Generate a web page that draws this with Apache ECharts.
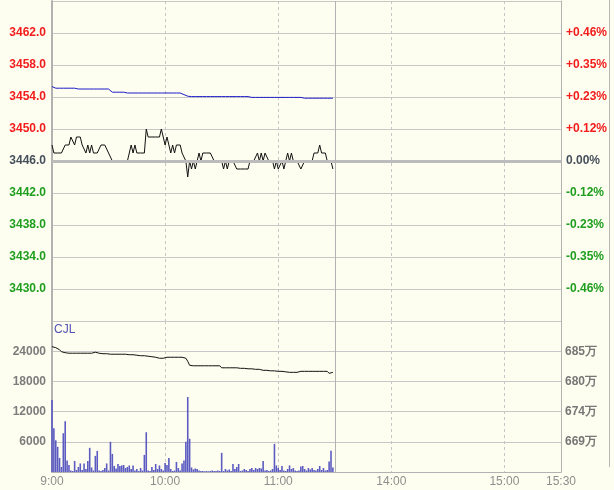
<!DOCTYPE html>
<html>
<head>
<meta charset="utf-8">
<script src="https://cdn.jsdelivr.net/npm/echarts@6/dist/echarts.min.js"></script>
<style>
html,body{margin:0;padding:0;background:#fefef0;}
#chart{width:614px;height:490px;}
</style>
</head>
<body>
<div id="chart"></div>
<script>
// ---- data ----
const basePrice = 3446.0;
const xTickValues = [0, 60, 120, 180, 240, 270];
const xTickLabels = ['9:00', '10:00', '11:00', '14:00', '15:00', '15:30'];
const volRightLabels = ['669万', '674万', '680万', '685万'];
const volLabelTitle = 'CJL';

const price = [
  3448,3447,3447,3447,3447,3447,3447,3448,3448,3448,
  3449,3449,3448,3449,3449,3449,3448,3448,3447,3448,
  3447,3448,3447,3447,3447,3447,3448,3448,3448,3448,
  3447,3447,3446,3446,3446,3446,3446,3446,3446,3446,
  3446,3447,3448,3447,3448,3447,3447,3447,3447,3447,
  3450,3449,3449,3449,3449,3449,3449,3449,3450,3449,
  3448,3449,3448,3447,3448,3447,3448,3448,3448,3447,
  3447,3446,3444,3446,3445,3446,3445,3446,3447,3446,
  3447,3447,3447,3447,3447,3447,3446,3446,3446,3446,
  3446,3445,3446,3445,3446,3446,3446,3446,3445,3445,
  3445,3445,3445,3445,3445,3446,3446,3446,3446,3447,
  3446,3447,3446,3447,3447,3446,3446,3446,3445,3446,
  3445,3445,3446,3445,3446,3447,3446,3447,3446,3446,
  3446,3446,3445,3445,3446,3446,3446,3446,3446,3447,
  3447,3447,3448,3447,3447,3447,3446,3446,3446,3445
];

const avgPrice = [
  3455.3,3455.1,3455.1,3455.1,3455.1,3455.1,3455.1,3455.1,3455.1,3455.1,
  3455.1,3455.1,3455.1,3455.1,3455.0,3455.0,3455.0,3455.0,3455.0,3455.0,
  3455.0,3455.0,3455.0,3455.0,3455.0,3455.0,3455.0,3455.0,3455.0,3455.0,
  3455.0,3455.0,3454.6,3454.6,3454.6,3454.6,3454.6,3454.6,3454.6,3454.6,
  3454.5,3454.5,3454.5,3454.5,3454.5,3454.5,3454.5,3454.5,3454.5,3454.5,
  3454.5,3454.5,3454.5,3454.5,3454.5,3454.5,3454.5,3454.5,3454.5,3454.5,
  3454.5,3454.5,3454.5,3454.5,3454.5,3454.5,3454.5,3454.5,3454.5,3454.5,
  3454.3,3454.2,3454.1,3454.05,3454.05,3454.05,3454.05,3454.05,3454.05,3454.05,
  3454.05,3454.05,3454.05,3454.05,3454.05,3454.05,3454.05,3454.05,3454.05,3454.05,
  3454.05,3454.05,3454.05,3454.05,3454.05,3454.05,3454.05,3454.05,3454.05,3454.05,
  3454.05,3454.05,3454.05,3454.05,3454.05,3454.05,3453.95,3453.95,3453.95,3453.95,
  3453.95,3453.95,3453.95,3453.95,3453.95,3453.95,3453.95,3453.95,3453.95,3453.95,
  3453.95,3453.95,3453.95,3453.95,3453.95,3453.95,3453.95,3453.95,3453.95,3453.95,
  3453.95,3453.95,3453.95,3453.85,3453.85,3453.85,3453.85,3453.85,3453.85,3453.85,
  3453.85,3453.85,3453.85,3453.85,3453.85,3453.85,3453.85,3453.85,3453.85,3453.85
];

const volume = [
  14300,8700,6300,5000,2800,1000,7700,10100,2300,1400,
  300,200,2200,400,1000,1700,400,1700,600,2200,
  4800,900,300,3200,4200,300,200,400,800,1700,
  300,6000,3600,1200,700,1600,1200,1300,1400,800,
  1000,1300,600,1300,300,600,200,800,300,3400,
  7900,300,200,1000,400,1600,600,1300,600,300,
  1800,1400,2800,600,200,300,2000,800,300,1700,
  2300,6000,14900,6600,900,500,700,600,300,200,
  200,150,200,150,200,300,200,200,300,200,
  3800,200,600,300,500,200,1600,600,1000,1600,
  200,300,600,400,200,600,800,400,800,600,
  800,700,2200,300,400,200,300,600,5600,1300,
  800,400,1200,300,200,600,1300,600,800,300,
  200,300,1100,1200,600,300,800,500,800,400,
  300,600,1200,400,800,300,400,2100,4200,900
];

const volLine = [
  24900,24800,24700,24600,24300,23900,23700,23700,23600,23600,
  23600,23600,23600,23600,23600,23600,23600,23600,23600,23600,
  23600,23600,23700,23800,23700,23600,23600,23500,23500,23500,
  23400,23400,23400,23400,23400,23400,23400,23400,23400,23400,
  23400,23300,23300,23300,23200,23200,23200,23100,23100,23100,
  23100,23000,23000,22900,22900,22800,22700,22600,22600,22600,
  22700,22800,22800,22800,22800,22800,22800,22800,22800,22800,
  22800,22600,22000,21200,21100,21100,21100,21100,21100,21100,
  21100,21100,21100,21100,21100,21100,21100,21100,21100,21100,
  20700,20700,20700,20700,20700,20700,20700,20700,20700,20700,
  20600,20600,20600,20500,20500,20500,20500,20500,20400,20400,
  20400,20300,20200,20200,20200,20100,20100,20100,20100,20000,
  20000,20000,20000,20000,19900,19800,19800,19800,19800,19800,
  19800,19900,20000,20000,20000,20000,20000,20000,20000,20000,
  20000,20000,20000,20000,20000,20000,20000,19600,19700,19800
];

// ---- chart ----
const chart = echarts.init(document.getElementById('chart'), null, {renderer: 'canvas'});
const FONT = 'Liberation Sans';
const RED = '#f21c1c', GREEN = '#1e9e1e', FLAT = '#46505c';
const GRID = '#c8c8c8', DASH = '#c6c6c6', AXIS = '#b2b2b2';

function xLabel(v) {
  const k = xTickValues.indexOf(v);
  return k >= 0 ? xTickLabels[k] : '';
}

const option = {
  backgroundColor: '#fefef0',
  animation: false,
  grid: [
    {left: 52, top: 1, width: 509, height: 320},
    {left: 52, top: 321, width: 509, height: 151}
  ],
  xAxis: [
    {
      type: 'value', gridIndex: 0, min: 0, max: 270, interval: 60,
      axisLabel: {show: false}, axisTick: {show: false},
      axisLine: {show: true, lineStyle: {color: AXIS, width: 2}},
      splitLine: {show: true, showMinLine: false, showMaxLine: false, lineStyle: {color: DASH, type: [3, 3], width: 1}}
    },
    {
      type: 'value', gridIndex: 1, min: 0, max: 270, interval: 60,
      axisLabel: {show: true, formatter: xLabel, color: '#8e8e8e', fontFamily: FONT, fontSize: 12, margin: 4},
      axisTick: {show: false},
      axisLine: {show: true, lineStyle: {color: AXIS, width: 1}},
      splitLine: {show: true, showMinLine: false, showMaxLine: false, lineStyle: {color: DASH, type: [3, 3], width: 1}}
    }
  ],
  yAxis: [
    {
      type: 'value', gridIndex: 0, position: 'left', min: -20, max: 20, interval: 4,
      axisLine: {show: true, lineStyle: {color: AXIS, width: 2}},
      axisTick: {show: false},
      axisLabel: {
        showMinLabel: false, showMaxLabel: false, margin: 6,
        fontFamily: FONT, fontSize: 12, fontWeight: 'bold',
        formatter: v => (basePrice + v).toFixed(1),
        color: v => (v > 0 ? RED : (v < 0 ? GREEN : FLAT))
      },
      splitLine: {show: true, lineStyle: {color: GRID, width: 1}}
    },
    {
      type: 'value', gridIndex: 0, position: 'right', min: -20, max: 20, interval: 4,
      axisLine: {show: true, lineStyle: {color: AXIS, width: 1}},
      axisTick: {show: false},
      axisLabel: {
        showMinLabel: false, showMaxLabel: false, margin: 5,
        fontFamily: FONT, fontSize: 12, fontWeight: 'bold',
        formatter: v => {
          const p = (v / basePrice * 100).toFixed(2);
          return v > 0 ? '+' + p + '%' : p + '%';
        },
        color: v => (v > 0 ? RED : (v < 0 ? GREEN : FLAT))
      },
      splitLine: {show: false}
    },
    {
      type: 'value', gridIndex: 1, position: 'left', min: 0, max: 30000, interval: 6000,
      axisLine: {show: true, lineStyle: {color: AXIS, width: 2}},
      axisTick: {show: false},
      axisLabel: {
        showMinLabel: false, showMaxLabel: false, margin: 6,
        fontFamily: FONT, fontSize: 12, fontWeight: 'bold', color: '#7c7c7c',
        formatter: v => String(v)
      },
      splitLine: {show: true, lineStyle: {color: GRID, width: 1}}
    },
    {
      type: 'value', gridIndex: 1, position: 'right', min: 0, max: 30000, interval: 6000,
      axisLine: {show: true, lineStyle: {color: AXIS, width: 1}},
      axisTick: {show: false},
      axisLabel: {
        showMinLabel: false, showMaxLabel: false, margin: 4,
        fontFamily: FONT, fontSize: 12, fontWeight: 'bold', color: '#767676',
        formatter: v => volRightLabels[Math.round(v / 6000) - 1] || ''
      },
      splitLine: {show: false}
    }
  ],
  graphic: [
    {type: 'text', left: 54, top: 324, style: {text: volLabelTitle, fill: '#5252b4', font: '12px "Liberation Sans"'}},
    {type: 'line', shape: {x1: 609.5, y1: 0, x2: 609.5, y2: 467}, style: {stroke: '#b8b8b8', lineWidth: 1}}
  ],
  series: [
    {
      type: 'line', xAxisIndex: 0, yAxisIndex: 0, data: [], z: 1, silent: true,
      markLine: {
        silent: true, symbol: 'none', label: {show: false}, animation: false,
        data: [
          {yAxis: 0, lineStyle: {color: '#bcbcbc', width: 3, type: 'solid'}},
          {xAxis: 150, lineStyle: {color: '#b2b2b2', width: 1, type: 'solid'}}
        ]
      }
    },
    {
      type: 'line', xAxisIndex: 1, yAxisIndex: 2, data: [], z: 1, silent: true,
      markLine: {
        silent: true, symbol: 'none', label: {show: false}, animation: false,
        data: [{xAxis: 150, lineStyle: {color: '#b2b2b2', width: 1, type: 'solid'}}]
      }
    },
    {
      name: 'avg', type: 'line', xAxisIndex: 0, yAxisIndex: 0, z: 3,
      showSymbol: false, symbol: 'none',
      lineStyle: {color: '#1a1ac8', width: 1},
      data: avgPrice.map((p, i) => [i, p - basePrice])
    },
    {
      name: 'price', type: 'line', xAxisIndex: 0, yAxisIndex: 0, z: 4,
      showSymbol: false, symbol: 'none',
      lineStyle: {color: '#111', width: 1},
      data: price.map((p, i) => [i, p - basePrice])
    },
    {
      name: 'vol', type: 'bar', xAxisIndex: 1, yAxisIndex: 2, z: 3,
      barWidth: 1.6,
      itemStyle: {color: '#5b5bc2'},
      data: volume.map((v, i) => [i, v])
    },
    {
      name: 'volLine', type: 'line', xAxisIndex: 1, yAxisIndex: 2, z: 4,
      showSymbol: false, symbol: 'none',
      lineStyle: {color: '#111', width: 1},
      data: volLine.map((v, i) => [i, v])
    }
  ]
};
chart.setOption(option);
</script>
</body>
</html>
